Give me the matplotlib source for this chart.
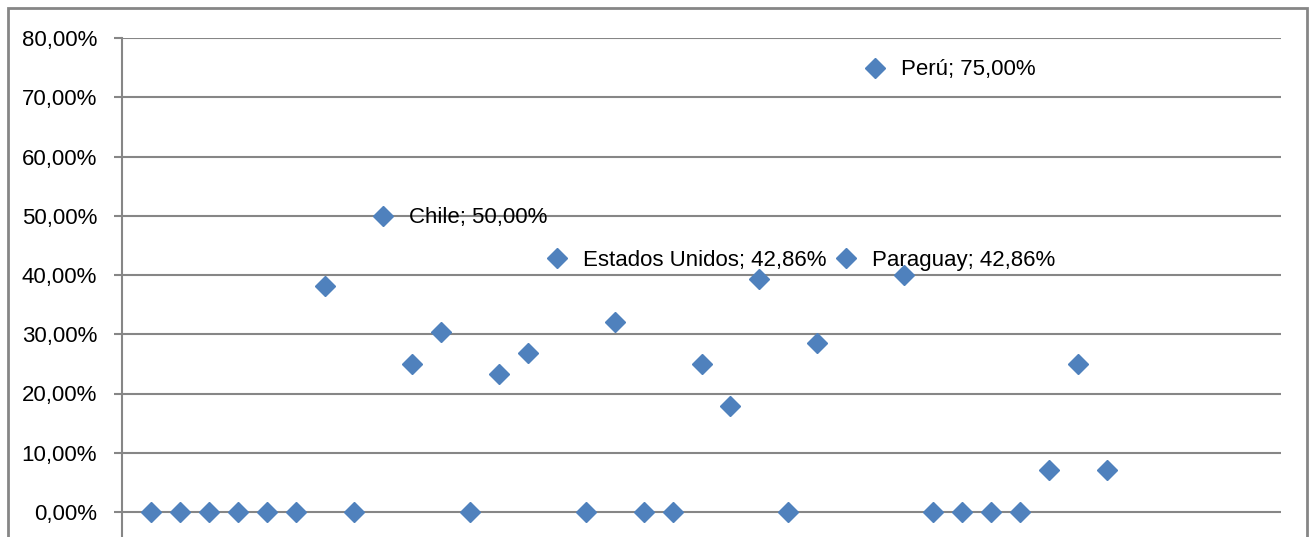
import matplotlib
matplotlib.use("Agg")
from matplotlib import pyplot as plt
from matplotlib.patches import Rectangle
from matplotlib.ticker import FuncFormatter

# values (share, 0..1), one point per position 1..34
positions = list(range(1, 35))
values = [0.0, 0.0, 0.0, 0.0, 0.0, 0.0, 0.381, 0.0, 0.50, 0.25,
          0.304, 0.0, 0.233, 0.269, 0.4286, 0.0, 0.321, 0.0, 0.0, 0.25,
          0.179, 0.393, 0.0, 0.286, 0.4286, 0.75, 0.40, 0.0, 0.0, 0.0,
          0.0, 0.071, 0.25, 0.071]
# only these points carry a data label in the chart
labels = {9: "Chile", 15: "Estados Unidos", 25: "Paraguay", 26: "Perú"}
y_ticks = [0.0, 0.1, 0.2, 0.3, 0.4, 0.5, 0.6, 0.7, 0.8]

plt.rcParams['font.family'] = ['Liberation Sans', 'DejaVu Sans']

W, H = 1312, 537
fig = plt.figure(figsize=(W / 100, H / 100), dpi=100)

# plot area: left 122px, right 1281px, 80% at y=38px, 0% at y=512px
y_min = -0.1
px_per_unit = (512 - 38) / 0.8
bottom_px = 512 + (0 - y_min) * px_per_unit
ax = fig.add_axes([122 / W, 1 - bottom_px / H, (1281 - 122) / W, (bottom_px - 38) / H])

grid_col = '#868686'
ax.set_xlim(0, 40)
ax.set_ylim(y_min, 0.8)
ax.set_yticks(y_ticks)
ax.yaxis.set_major_formatter(FuncFormatter(lambda v, p: ('%.2f%%' % (v * 100)).replace('.', ',')))
ax.set_xticks([])
for y in y_ticks:
    ax.axhline(y, color=grid_col, lw=1.5, zorder=1)
for s in ['top', 'right', 'bottom']:
    ax.spines[s].set_visible(False)
ax.spines['left'].set_color(grid_col)
ax.spines['left'].set_linewidth(1.5)
ax.tick_params(axis='y', length=6, width=1.5, color=grid_col, pad=12,
               labelsize=16, labelcolor='black')

ax.plot(positions, values, linestyle='none', marker='D', markersize=10,
        color='#4F81BD', markeredgecolor='#4F81BD', clip_on=False, zorder=3)

for x, v in zip(positions, values):
    if x in labels:
        txt = labels[x] + '; ' + ('%.2f%%' % (v * 100)).replace('.', ',')
        ax.annotate(txt, (x, v), xytext=(26, -2), textcoords='offset pixels',
                    ha='left', va='center', fontsize=16, color='black', zorder=4)

# outer chart frame
fig.add_artist(Rectangle((8 / W, -0.1), (1307 - 8) / W, 1.1 - 8 / H,
                         transform=fig.transFigure, fill=False,
                         edgecolor=grid_col, lw=2))

fig.savefig('out.png', dpi=100)
